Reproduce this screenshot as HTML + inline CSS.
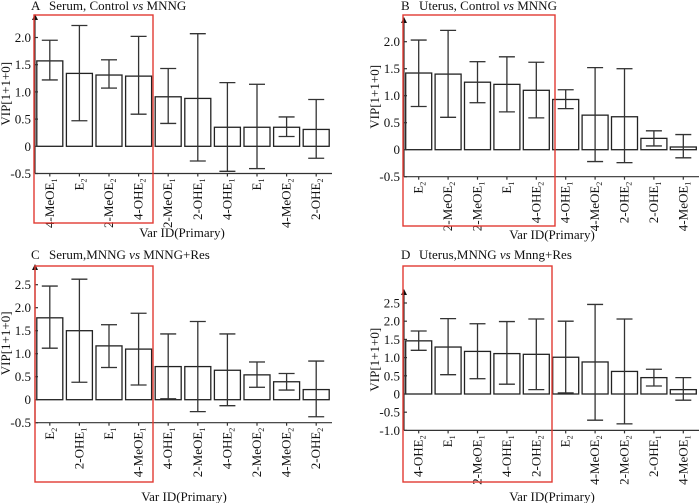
<!DOCTYPE html>
<html><head><meta charset="utf-8">
<style>
html,body{margin:0;padding:0;background:#fff;}
svg{display:block;}
svg text{font-family:"Liberation Serif","DejaVu Serif",serif;}
</style></head>
<body>
<svg id="fig" width="700" height="503" viewBox="0 0 700 503" xmlns="http://www.w3.org/2000/svg" font-family="Liberation Serif, serif"></svg>
<script>
// Panel A data
const catsA = [["4-MeOE","1"],["E","2"],["2-MeOE","2"],["4-OHE","2"],["2-MeOE","1"],["2-OHE","1"],["4-OHE","1"],["E","1"],["4-MeOE","2"],["2-OHE","2"]];
const valsA = [1.57,1.34,1.31,1.29,0.91,0.88,0.35,0.35,0.35,0.31];
const lowA  = [1.22,0.47,1.07,0.59,0.42,-0.27,-0.46,-0.41,0.18,-0.22];
const highA = [1.95,2.22,1.59,2.02,1.43,2.07,1.17,1.14,0.54,0.86];
const ticksA = [-0.5,0,0.5,1.0,1.5,2.0];
const tickLabelsA = ["-0.5","0","0.5","1.0","1.5","2.0"];
// Panel B data
const catsB = [["E","2"],["2-MeOE","2"],["2-MeOE","1"],["E","1"],["4-OHE","2"],["4-OHE","1"],["4-MeOE","2"],["2-OHE","2"],["2-OHE","1"],["4-MeOE","1"]];
const valsB = [1.42,1.40,1.25,1.21,1.10,0.93,0.64,0.61,0.21,0.05];
const lowB  = [0.80,0.60,0.87,0.70,0.59,0.76,-0.22,-0.24,0.07,-0.15];
const highB = [2.03,2.21,1.63,1.72,1.62,1.11,1.52,1.50,0.35,0.28];
const ticksB = [-0.5,0,0.5,1.0,1.5,2.0];
const tickLabelsB = ["-0.5","0","0.5","1.0","1.5","2.0"];
// Panel C data
const catsC = [["E","2"],["2-OHE","1"],["E","1"],["4-MeOE","1"],["4-OHE","1"],["2-MeOE","1"],["4-OHE","2"],["2-MeOE","2"],["4-MeOE","2"],["2-OHE","2"]];
const valsC = [1.78,1.50,1.17,1.10,0.72,0.72,0.64,0.54,0.39,0.22];
const lowC  = [1.12,0.38,0.70,0.32,0.02,-0.26,-0.13,0.27,0.21,-0.37];
const highC = [2.47,2.62,1.63,1.88,1.43,1.70,1.43,0.82,0.57,0.84];
const ticksC = [-0.5,0,0.5,1.0,1.5,2.0,2.5];
const tickLabelsC = ["-0.5","0","0.5","1.0","1.5","2.0","2.5"];
// Panel D data
const catsD = [["4-OHE","2"],["E","1"],["2-MeOE","1"],["4-OHE","1"],["2-OHE","2"],["E","2"],["4-MeOE","2"],["2-MeOE","2"],["2-OHE","1"],["4-MeOE","1"]];
const valsD = [1.46,1.29,1.17,1.11,1.09,1.01,0.88,0.62,0.45,0.12];
const lowD  = [1.20,0.53,0.42,0.27,0.12,0.03,-0.72,-0.82,0.22,-0.17];
const highD = [1.73,2.07,1.93,1.99,2.06,2.00,2.46,2.06,0.68,0.45];
const ticksD = [-1.0,-0.5,0,0.5,1.0,1.5,2.0,2.5];
const tickLabelsD = ["-1.0","-0.5","0","0.5","1.0","1.5","2.0","2.5"];

const NS = "http://www.w3.org/2000/svg";
const FF = '"Liberation Serif", serif';
const svg = document.getElementById("fig");
function mk(tag, attrs, parent){
  const e = document.createElementNS(NS, tag);
  for (const k in attrs) e.setAttribute(k, attrs[k]);
  if (tag === "text") e.setAttribute("font-family", FF);
  (parent||svg).appendChild(e);
  return e;
}

function panel(cfg){
  const g = mk("g", {});
  
  
  const y = v => cfg.zeroY - v * cfg.ppu;
  const bw = (cfg.xR - cfg.x0) / cfg.cats.length;
  const xc = i => cfg.x0 + bw * (i + 0.5);
  const yMin = y(cfg.ticks[0]);
  const t = mk("text", {x: cfg.letterX, y: cfg.titleY, "font-size": 13, fill: "#111"}, g);
  
  
  t.innerHTML = cfg.letter + '<tspan x="' + (cfg.letterX + 18) + '">' + cfg.pre + '</tspan><tspan font-style="italic"> vs </tspan><tspan>' + cfg.post + '</tspan>';
  cfg.vals.forEach((v, i) => {
    const r = mk("rect", {x: xc(i) - 13, y: Math.min(y(v), y(0)), width: 26, height: Math.abs(y(v) - y(0)), fill: "#fff", stroke: "#222", "stroke-width": 1.3}, g);
    
    
  });
  cfg.vals.forEach((v, i) => {
    const eg = mk("g", {stroke: "#333", "stroke-width": 1.3}, g);
    
    
    const c = xc(i), yl = y(cfg.low[i]), yh = y(cfg.high[i]);
    mk("line", {x1: c, x2: c, y1: yl, y2: yh}, eg);
    mk("line", {x1: c - 8, x2: c + 8, y1: yl, y2: yl}, eg);
    mk("line", {x1: c - 8, x2: c + 8, y1: yh, y2: yh}, eg);
  });
  const ax = mk("g", {stroke: "#333", "stroke-width": 1.2}, g);
  
  
  mk("line", {x1: cfg.x0, x2: cfg.x0, y1: yMin, y2: cfg.arrowY + 4}, ax);
  mk("line", {x1: cfg.x0, x2: cfg.xR + 1, y1: yMin, y2: yMin}, ax);
  const ar = mk("path", {d: `M${cfg.x0-3},${cfg.arrowY+6} L${cfg.x0},${cfg.arrowY} L${cfg.x0+3},${cfg.arrowY+6} Z`, fill: "#111"}, g);
  
  
  cfg.ticks.forEach((tv, i) => {
    const yy = y(tv);
    mk("line", {x1: cfg.x0, x2: cfg.x0 + 3, y1: yy, y2: yy}, ax);
    const tl = mk("text", {x: cfg.x0 - 4, y: yy + 4.5, "font-size": 13, "text-anchor": "end", fill: "#111"}, g);
    
    
    tl.textContent = cfg.tickLabels[i];
  });
  cfg.cats.forEach((c, i) => {
    const cx = xc(i);
    mk("line", {x1: cx, x2: cx, y1: yMin, y2: yMin + 3}, ax);
    const tl = mk("text", {transform: `translate(${cx + 4},${yMin + 5}) rotate(-90)`, "font-size": 13, "text-anchor": "end", fill: "#111"}, g);
    
    
    tl.innerHTML = c[0] + '<tspan font-size="8" dy="3">' + c[1] + '</tspan>';
  });
  const yt = mk("text", {transform: `translate(${cfg.x0 - 25},${(cfg.arrowY + yMin) / 2}) rotate(-90)`, "font-size": 13, "text-anchor": "middle", fill: "#111"}, g);
  
  
  yt.textContent = "VIP[1+1+0]";
  const xt = mk("text", {x: cfg.xTitleX, y: cfg.xTitleY, "font-size": 13, "text-anchor": "middle", fill: "#111"}, g);
  
  
  xt.textContent = "Var ID(Primary)";
  const hb = mk("rect", {x: cfg.box[0], y: cfg.box[1], width: cfg.box[2] - cfg.box[0], height: cfg.box[3] - cfg.box[1], fill: "none", stroke: "#e23a32", "stroke-width": 1.4}, g);
  
  
}

panel({name: "panel-a", letter: "A", letterX: 31, titleY: 10, pre: "Serum, Control", post: "MNNG",
  cats: catsA, vals: valsA, low: lowA, high: highA, ticks: ticksA, tickLabels: tickLabelsA,
  x0: 35, xR: 331, zeroY: 146.3, ppu: 54.4, arrowY: 14, box: [34, 15, 153, 223], xTitleX: 182, xTitleY: 237});
panel({name: "panel-b", letter: "B", letterX: 401, titleY: 10, pre: "Uterus, Control", post: "MNNG",
  cats: catsB, vals: valsB, low: lowB, high: highB, ticks: ticksB, tickLabels: tickLabelsB,
  x0: 404, xR: 698, zeroY: 149.7, ppu: 54, arrowY: 17, box: [403, 15, 555, 226], xTitleX: 552, xTitleY: 239});
panel({name: "panel-c", letter: "C", letterX: 31, titleY: 259, pre: "Serum,MNNG", post: "MNNG+Res",
  cats: catsC, vals: valsC, low: lowC, high: highC, ticks: ticksC, tickLabels: tickLabelsC,
  x0: 35, xR: 331, zeroY: 399.7, ppu: 46, arrowY: 264, box: [35, 266, 153, 482], xTitleX: 184, xTitleY: 501});
panel({name: "panel-d", letter: "D", letterX: 401, titleY: 259, pre: "Uterus,MNNG", post: "Mnng+Res",
  cats: catsD, vals: valsD, low: lowD, high: highD, ticks: ticksD, tickLabels: tickLabelsD,
  x0: 404, xR: 698, zeroY: 394, ppu: 36.4, arrowY: 289, box: [403, 266, 552, 482], xTitleX: 552, xTitleY: 501});
</script>
</body></html>
